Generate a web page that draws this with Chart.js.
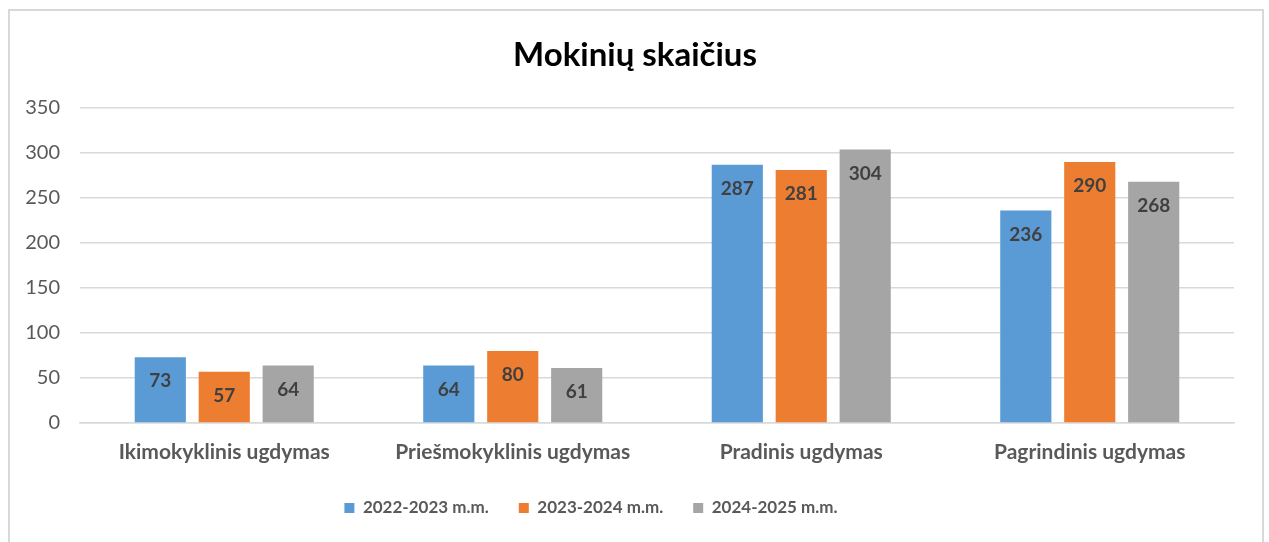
<!DOCTYPE html>
<html>
<head>
<meta charset="utf-8">
<script src="https://cdn.jsdelivr.net/npm/chart.js@4.4.1/dist/chart.umd.min.js"></script>
<style>
  html, body { margin: 0; padding: 0; background: #fff; }
  #wrap { position: relative; width: 1269px; height: 542px; }
  #frame {
    position: absolute; left: 8px; top: 9px; width: 1252px; height: 560px;
    border: 2px solid #d9d9d9; pointer-events: none;
  }
</style>
</head>
<body>
<div id="wrap">
  <canvas id="myChart" width="1269" height="542"></canvas>
  <div id="frame"></div>
</div>
<script>
const categories = ['Ikimokyklinis ugdymas', 'Priešmokyklinis ugdymas', 'Pradinis ugdymas', 'Pagrindinis ugdymas'];
const seriesNames = ['2022-2023 m.m.', '2023-2024 m.m.', '2024-2025 m.m.'];
const values2022 = [73, 64, 287, 236];
const values2023 = [57, 80, 281, 290];
const values2024 = [64, 61, 304, 268];
const colors = ['#5B9BD5', '#ED7D31', '#A5A5A5'];

const FONT = 'Lato, "Open Sans", sans-serif';

// draws the value inside the top of every bar
const valueLabels = {
    id: 'valueLabels',
    afterDatasetsDraw(chart) {
        const ctx = chart.ctx;
        ctx.save();
        ctx.font = 'bold 19px ' + FONT;
        ctx.fillStyle = '#404040';
        ctx.textAlign = 'center';
        ctx.textBaseline = 'middle';
        chart.data.datasets.forEach((ds, i) => {
            chart.getDatasetMeta(i).data.forEach((bar, j) => {
                ctx.fillText(ds.data[j], bar.x, bar.y + 24);
            });
        });
        ctx.restore();
    }
};

// title is centred on the whole frame, legend sits a bit left of centre
const nudge = {
    id: 'nudge',
    afterLayout(chart) {
        chart.titleBlock.left += 18;
        chart.titleBlock.right += 18;
        chart.legend.left -= 26;
        chart.legend.right -= 26;
    }
};

const data = {
    labels: categories,
    datasets: [
        { label: seriesNames[0], data: values2022, backgroundColor: colors[0] },
        { label: seriesNames[1], data: values2023, backgroundColor: colors[1] },
        { label: seriesNames[2], data: values2024, backgroundColor: colors[2] },
    ],
};

const options = {
    responsive: false,
    animation: false,
    layout: {
        padding: { top: 0, bottom: 15.5, left: 0, right: 35 },
    },
    datasets: {
        bar: { categoryPercentage: 0.665, barPercentage: 0.8 },
    },
    plugins: {
        title: {
            display: true,
            text: 'Mokinių skaičius',
            color: '#000',
            font: { family: FONT, size: 33, weight: 'bold' },
            padding: { top: 35.5, bottom: 32.9 },
        },
        legend: {
            position: 'bottom',
            labels: {
                boxWidth: 10,
                boxHeight: 10,
                padding: 30,
                color: '#595959',
                font: { family: FONT, size: 17, weight: 'bold' },
            },
        },
        tooltip: { enabled: false },
    },
    scales: {
        x: {
            grid: { display: false, drawTicks: false },
            border: { color: '#d9d9d9', width: 1.5 },
            ticks: {
                color: '#595959',
                padding: 17,
                font: { family: FONT, size: 21, weight: 'bold' },
            },
            afterFit(scale) { scale.height = 46.5; },
        },
        y: {
            min: 0,
            max: 350,
            grid: { color: '#d9d9d9', lineWidth: 1.5, drawTicks: false },
            border: { display: false },
            ticks: {
                stepSize: 50,
                color: '#595959',
                padding: 20,
                font: { family: FONT, size: 20 },
            },
            afterFit(scale) { scale.width = 80; },
        },
    },
};

new Chart(document.getElementById('myChart'), {
    type: 'bar',
    data: data,
    options: options,
    plugins: [valueLabels, nudge],
});
</script>
</body>
</html>
